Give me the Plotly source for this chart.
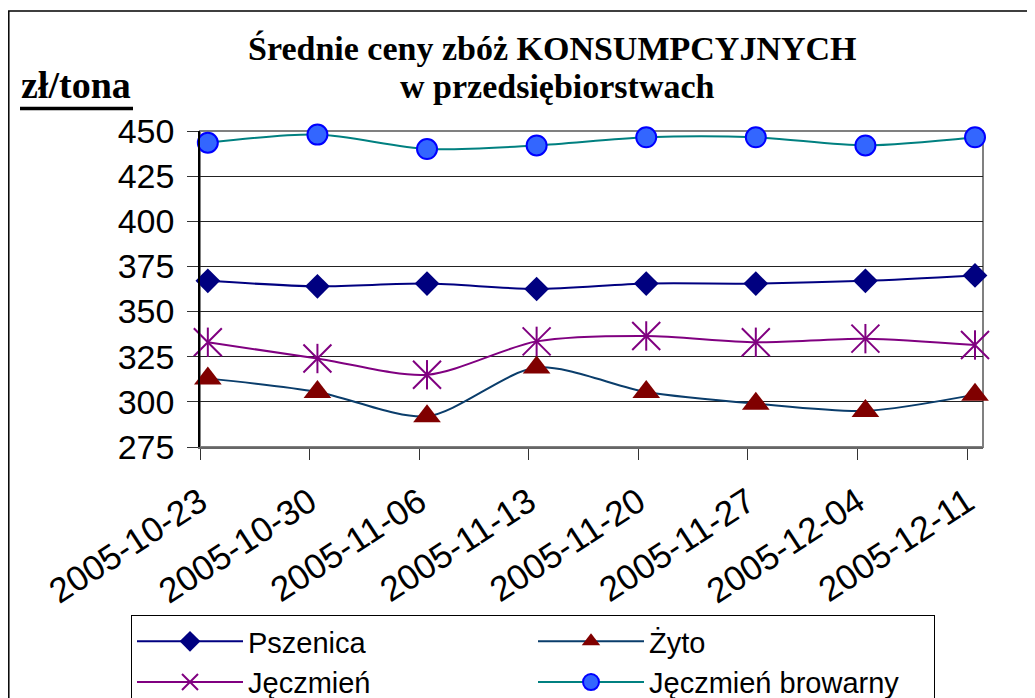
import pandas as pd
import plotly.graph_objects as go

# ---- data ----
dates = ["2005-10-23", "2005-10-30", "2005-11-06", "2005-11-13",
         "2005-11-20", "2005-11-27", "2005-12-04", "2005-12-11"]
pszenica = [367, 364, 365.5, 362.5, 365.5, 365.5, 367, 370]
zyto = [313, 305.5, 292, 319, 305.5, 299, 295, 304]
jeczmien = [333, 324, 315, 333.5, 336.5, 333, 335, 331.5]
jeczmien_browarny = [443.5, 448, 440, 442, 446.5, 446.5, 442, 446.5]
y_ticks = [275, 300, 325, 350, 375, 400, 425, 450]

title_line1 = "Średnie ceny zbóż KONSUMPCYJNYCH"
title_line2 = "w przedsiębiorstwach"
unit_label = "zł/tona"

# ---- layout geometry ----
OFF = 8                      # page body margin
W, H = 1035 - OFF, 698 - OFF
# plot area in screen pixels
SL, SR, ST, SB = 200, 983, 131, 447
L, R, T, B = SL - OFF, SR - OFF, ST - OFF, SB - OFF
pw, ph = R - L, B - T


def px(x):
    """screen x -> paper x"""
    return (x - SL) / pw


def py(y):
    """screen y -> paper y"""
    return (SB - y) / ph


# in the reference the tick marks sit half a day left of the data points
tick_pos = [(pd.Timestamp(d) - pd.Timedelta(hours=12)).strftime("%Y-%m-%d %H:%M")
            for d in dates]

SANS = "Liberation Sans, Arial, sans-serif"
SERIF = "Liberation Serif, Times New Roman, serif"

fig = go.Figure()

fig.add_trace(go.Scatter(
    x=dates, y=pszenica, name="Pszenica", mode="lines+markers",
    line=dict(color="#000080", width=2, shape="spline", smoothing=0.8),
    marker=dict(symbol="diamond", size=19, color="#000080"),
    cliponaxis=False))

fig.add_trace(go.Scatter(
    x=dates, y=zyto, name="Żyto", mode="lines+markers",
    line=dict(color="#0A3D6B", width=2, shape="spline", smoothing=0.8),
    marker=dict(symbol="triangle-up", size=24, color="#800000"),
    cliponaxis=False))

fig.add_trace(go.Scatter(
    x=dates, y=jeczmien, name="Jęczmień", mode="lines+markers",
    line=dict(color="#800080", width=2, shape="spline", smoothing=0.8),
    marker=dict(symbol="x-thin-open", size=28, color="#800080",
                line=dict(color="#800080", width=2)),
    cliponaxis=False))

fig.add_trace(go.Scatter(
    x=dates, y=jeczmien_browarny, name="Jęczmień browarny", mode="lines+markers",
    line=dict(color="#008080", width=2, shape="spline", smoothing=0.8),
    marker=dict(symbol="circle", size=20, color="#3366FF",
                line=dict(color="#0000FF", width=2)),
    cliponaxis=False))

# vertical arm of the asterisk-like "star" marker
fig.add_trace(go.Scatter(
    x=dates, y=jeczmien, name="Jęczmień", mode="markers", showlegend=False,
    marker=dict(symbol="line-ns-open", size=21, color="#800080",
                line=dict(color="#800080", width=2)),
    cliponaxis=False, hoverinfo="skip"))

fig.update_layout(
    width=W, height=H, autosize=False,
    margin=dict(l=L, r=W - R, t=T, b=H - B, pad=0, autoexpand=False),
    paper_bgcolor="white", plot_bgcolor="white",
    font=dict(family=SANS, color="black"),
    showlegend=True,
    legend=dict(
        orientation="h", x=px(131), y=py(615), xanchor="left", yanchor="top",
        bordercolor="black", borderwidth=1, bgcolor="white",
        font=dict(family=SANS, size=29, color="black"),
        entrywidth=280, entrywidthmode="pixels", itemwidth=106,
        tracegroupgap=0,
    ),
    xaxis=dict(
        type="date", range=["2005-10-22 12:00", "2005-12-11 12:15"],
        tickvals=tick_pos, ticktext=dates, tickangle=-33,
        tickfont=dict(family=SANS, size=35, color="black"),
        ticks="outside", ticklen=11, tickcolor="#333333", tickwidth=1,
        showgrid=False, showline=True, linecolor="#666666", linewidth=1.5,
        zeroline=False, ticklabelstandoff=8,
    ),
    yaxis=dict(
        range=[275, 450], tickvals=y_ticks,
        tickfont=dict(family=SANS, size=34, color="black"),
        ticks="outside", ticklen=11, tickcolor="#333333", tickwidth=1,
        showgrid=True, gridcolor="#222222", gridwidth=1,
        showline=True, linecolor="black", linewidth=1.5,
        zeroline=False, ticklabelstandoff=6,
    ),
    shapes=[
        # outer chart-area border
        dict(type="rect", xref="paper", yref="paper",
             x0=px(8.8), x1=px(1050), y0=py(720), y1=py(11),
             line=dict(color="black", width=1.5), fillcolor="rgba(0,0,0,0)",
             layer="below"),
        # plot-area border
        dict(type="rect", xref="paper", yref="paper",
             x0=0, x1=1, y0=0, y1=1,
             line=dict(color="#808080", width=2), fillcolor="rgba(0,0,0,0)",
             layer="below"),
        # underline of unit label
        dict(type="line", xref="paper", yref="paper",
             x0=px(20), x1=px(133), y0=py(108.5), y1=py(108.5),
             line=dict(color="black", width=3.5)),
    ],
    annotations=[
        dict(text="<b>" + title_line1 + "</b>", xref="paper", yref="paper",
             x=px(552), y=py(49), xanchor="center", yanchor="middle",
             showarrow=False, font=dict(family=SERIF, size=34, color="black")),
        dict(text="<b>" + title_line2 + "</b>", xref="paper", yref="paper",
             x=px(557), y=py(87), xanchor="center", yanchor="middle",
             showarrow=False, font=dict(family=SERIF, size=34, color="black")),
        dict(text="<b>" + unit_label + "</b>", xref="paper", yref="paper",
             x=px(19), y=py(85), xanchor="left", yanchor="middle",
             showarrow=False, font=dict(family=SERIF, size=38, color="black")),
    ],
)

fig.write_html("out.html")
